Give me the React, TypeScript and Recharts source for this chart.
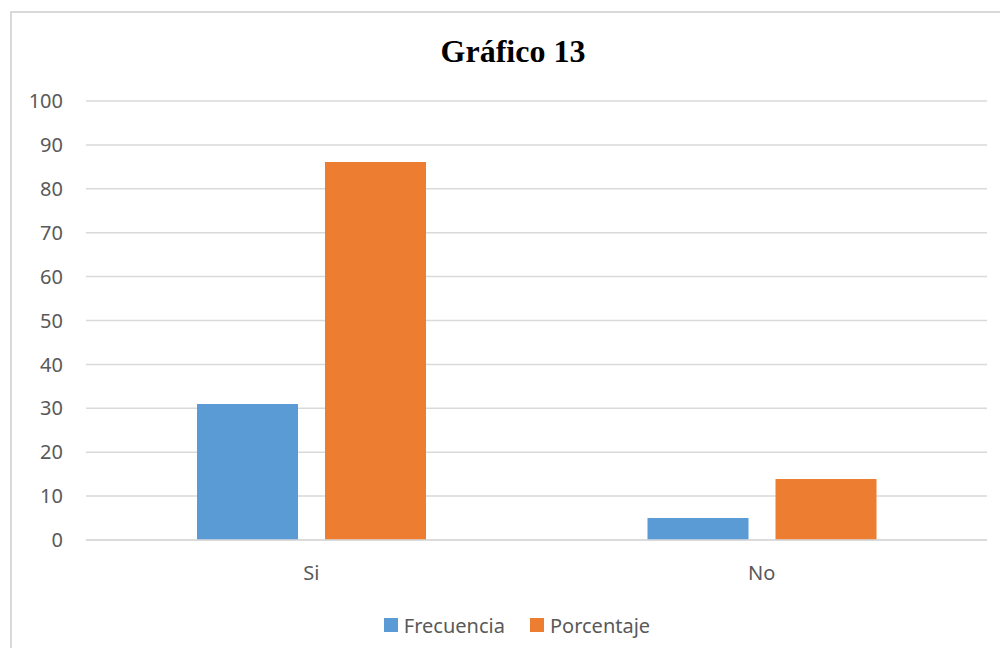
import React from 'react';
import { BarChart, Bar, XAxis, YAxis, CartesianGrid, Legend } from 'recharts';

const categories = ['Si', 'No'];
const frecuencia = [31, 5];
const porcentaje = [86.1, 13.9];
const yTicks = [0, 10, 20, 30, 40, 50, 60, 70, 80, 90, 100];
const seriesNames = ['Frecuencia', 'Porcentaje'];
const seriesColors = ['#5B9BD5', '#ED7D31'];

const data = categories.map((c, i) => ({
  name: c,
  Frecuencia: frecuencia[i],
  Porcentaje: porcentaje[i],
}));

const FONT = '"Noto Sans", sans-serif';

const LegendContent = () => (
  <div
    style={{
      display: 'flex',
      justifyContent: 'center',
      alignItems: 'center',
      height: 30,
      paddingLeft: 39,
      fontFamily: FONT,
      fontSize: 20,
      color: '#595959',
    }}
  >
    {seriesNames.map((n, i) => (
      <div key={n} style={{ display: 'flex', alignItems: 'center', marginRight: i === 0 ? 25 : 0 }}>
        <div style={{ width: 14, height: 14, background: seriesColors[i], marginRight: 6 }} />
        <span>{n}</span>
      </div>
    ))}
  </div>
);

export default function App() {
  return (
    <div style={{ position: 'relative', width: 1000, height: 640, overflow: 'hidden', background: '#fff' }}>
      <div
        style={{
          position: 'absolute',
          left: 2,
          top: 3,
          width: 1100,
          height: 800,
          border: '2px solid #d9d9d9',
          boxSizing: 'border-box',
        }}
      />
      <div
        style={{
          position: 'absolute',
          left: 0,
          top: 27,
          width: 1010,
          textAlign: 'center',
          fontFamily: '"Liberation Serif", "Times New Roman", serif',
          fontWeight: 'bold',
          fontSize: 32,
          lineHeight: '32px',
          color: '#000',
        }}
      >
        Gráfico 13
      </div>
      <div style={{ position: 'absolute', left: 0, top: 0 }}>
        <BarChart
          width={1000}
          height={640}
          data={data}
          margin={{ top: 93, right: 21, left: 0, bottom: 8 }}
          barSize={101}
          barGap={27}
        >
          <CartesianGrid vertical={false} stroke="#d9d9d9" strokeWidth={1.5} />
          <XAxis
            dataKey="name"
            height={70}
            axisLine={{ stroke: '#d9d9d9', strokeWidth: 1.5 }}
            tickLine={false}
            tickMargin={20}
            tick={{ fill: '#595959', fontSize: 20, fontFamily: FONT }}
          />
          <YAxis
            width={78}
            domain={[0, 100]}
            ticks={yTicks}
            interval={0}
            axisLine={false}
            tickLine={false}
            tickMargin={17}
            tick={{ fill: '#595959', fontSize: 20, fontFamily: FONT }}
          />
          <Legend verticalAlign="bottom" height={30} content={<LegendContent />} />
          <Bar dataKey="Frecuencia" fill={seriesColors[0]} isAnimationActive={false} />
          <Bar dataKey="Porcentaje" fill={seriesColors[1]} isAnimationActive={false} />
        </BarChart>
      </div>
    </div>
  );
}
